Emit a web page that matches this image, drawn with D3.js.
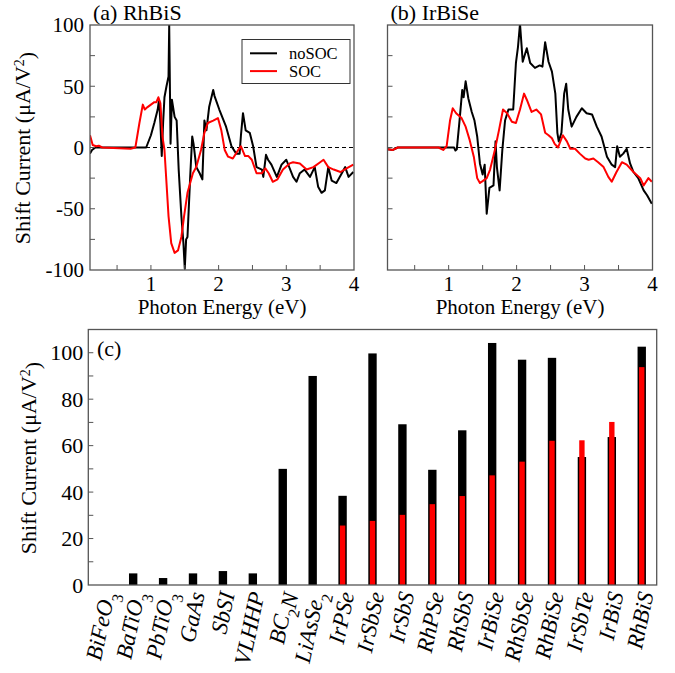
<!DOCTYPE html>
<html><head><meta charset="utf-8">
<script src="https://cdn.jsdelivr.net/npm/d3@7"></script>
<style>
html,body{margin:0;padding:0;background:#fff;}
svg, svg text{font-family:"Liberation Serif","DejaVu Serif","Times New Roman",serif;}
</style></head>
<body>
<svg id="chart" width="675" height="673" font-family="Liberation Serif, DejaVu Serif, serif"></svg>
<script>
// ---------- DATA ----------
const aNoSOC = [[0.10,-5],[0.13,-2],[0.18,0],[0.93,0],[1.0,10],[1.05,20],[1.10,31],[1.12,39],[1.14,20],[1.16,-7],[1.18,20],[1.20,41],[1.23,50],[1.26,58],[1.27,100],[1.29,3],[1.31,39],[1.35,25],[1.38,22],[1.41,-18],[1.45,-56],[1.48,-78],[1.50,-99],[1.52,-75],[1.54,-73],[1.58,-24],[1.61,9],[1.63,3],[1.67,-16],[1.72,-21],[1.76,-26],[1.79,22],[1.82,14],[1.86,33],[1.92,47],[1.94,42],[2.01,31],[2.11,17],[2.19,1],[2.26,-5],[2.31,-5],[2.33,10],[2.36,28],[2.40,14],[2.46,12],[2.51,1],[2.56,-16],[2.64,-18],[2.66,-24],[2.70,-6],[2.73,-10],[2.78,-14],[2.86,-24],[2.93,-14],[3.0,-10],[3.10,-24],[3.15,-28],[3.20,-21],[3.27,-18],[3.35,-24],[3.42,-16],[3.47,-32],[3.52,-37],[3.57,-35],[3.62,-16],[3.67,-27],[3.74,-29],[3.82,-21],[3.87,-16],[3.92,-24],[3.99,-20]];
const aSOC = [[0.10,10],[0.14,2],[0.19,1],[0.23,1.5],[0.28,0],[0.70,-1],[0.77,0],[0.83,20],[0.88,35],[0.91,31],[0.95,33],[1.0,35],[1.05,37],[1.08,37],[1.11,41],[1.14,36],[1.17,9],[1.20,-2],[1.23,-29],[1.26,-56],[1.30,-78],[1.35,-86],[1.40,-84],[1.45,-73],[1.49,-56],[1.54,-37],[1.62,-21],[1.67,-16],[1.74,-2],[1.79,12],[1.84,20],[1.92,22],[1.99,24],[2.04,14],[2.09,-2],[2.14,-7.5],[2.21,-9],[2.29,-2],[2.33,1],[2.39,-7],[2.44,-7],[2.49,-10],[2.56,-21],[2.64,-21],[2.69,-17],[2.74,-21],[2.80,-28],[2.87,-26],[2.95,-18],[3.05,-13],[3.10,-12],[3.20,-13],[3.30,-18],[3.40,-16],[3.50,-12],[3.55,-10],[3.62,-16],[3.70,-18],[3.80,-20],[3.89,-17],[3.99,-14]];
const bNoSOC = [[0.10,-1.5],[0.18,-2],[0.25,0],[1.08,0],[1.10,-2.5],[1.12,-1.5],[1.16,22],[1.20,47],[1.22,41],[1.25,54],[1.29,40],[1.34,29],[1.38,22],[1.42,9],[1.46,-13],[1.50,-22],[1.53,-14],[1.56,-54],[1.60,-33],[1.66,-31],[1.69,5],[1.71,-16],[1.75,-35],[1.79,-2],[1.83,22],[1.88,31],[1.95,31],[1.99,69],[2.02,82],[2.05,101],[2.09,70],[2.15,81],[2.20,69],[2.27,65],[2.34,67],[2.38,66],[2.42,86],[2.47,70],[2.52,62],[2.57,44],[2.60,12],[2.62,5],[2.66,12],[2.70,44],[2.73,52],[2.76,31],[2.81,17],[2.88,25],[2.96,32],[3.03,28],[3.11,27],[3.18,17],[3.25,9],[3.33,-7.5],[3.40,-14],[3.45,-16],[3.48,1],[3.52,-7.5],[3.57,-5],[3.62,-1],[3.67,-13],[3.72,-20],[3.79,-25],[3.87,-35],[3.92,-39],[3.99,-46]];
const bSOC = [[0.10,-1.5],[0.18,-2],[0.25,0],[0.85,0],[0.92,-2],[0.97,1],[1.02,22],[1.06,32],[1.11,28],[1.19,24],[1.25,17],[1.31,6],[1.37,-7.5],[1.42,-25],[1.46,-29],[1.51,-27],[1.56,-25],[1.61,-18],[1.68,-2],[1.74,14],[1.80,31],[1.86,28],[1.93,21],[1.99,20],[2.05,31],[2.11,44],[2.15,39],[2.22,29],[2.29,31],[2.36,27],[2.42,12],[2.47,10],[2.52,7.5],[2.56,3],[2.61,0],[2.68,10],[2.74,5],[2.79,-1],[2.86,-1],[2.93,-5],[3.01,-9],[3.06,-10],[3.13,-9],[3.20,-12],[3.28,-16],[3.35,-24],[3.40,-28],[3.47,-20],[3.55,-12],[3.62,-14],[3.72,-20],[3.82,-25],[3.87,-31],[3.94,-25],[3.99,-28]];

const materials = ["BiFeO3","BaTiO3","PbTiO3","GaAs","SbSI","VLHHP","BC2N","LiAsSe2","IrPSe","IrSbSe","IrSbS","RhPSe","RhSbS","IrBiSe","RhSbSe","RhBiSe","IrSbTe","IrBiS","RhBiS"];
const barNoSOC = [0,5,3,5,6,5,50,90,38.4,99.7,69.2,49.6,66.6,104.2,97,97.8,55.1,63.7,102.6];
const barSOC = [null,null,null,null,null,null,null,null,25.6,27.6,30.2,34.8,38.3,47.2,53.1,62.1,62.3,70.2,93.8];

const lineXTicks = [1,2,3,4];
const lineXMinor = [0.5,1,1.5,2,2.5,3,3.5];
const lineYTicks = [-100,-50,0,50,100];
const lineYMinor = [-75,-50,-25,0,25,50,75];
const barYTicks = [0,20,40,60,80,100];
const barYMinor = [10,20,30,40,50,60,70,80,90,100];
const seriesNames = ["noSOC","SOC"];
const seriesColors = ["#000000","#ff0000"];

// ---------- DRAW ----------
const FONT = "Liberation Serif, DejaVu Serif, serif";
const svg = d3.select("#chart");
const frameColor = "#555";
const tickLen = 5;

function linePanel(id, x0, x1, label, dataNo, dataSoc, showYLabels, legend) {
  const x = d3.scaleLinear().domain([0.1, 4]).range([x0, x1]);
  const y = d3.scaleLinear().domain([-100, 100]).range([270, 25]);
  const g = svg.append("g").attr("font-family", FONT);
  g.append("clipPath").attr("id", id).append("rect")
    .attr("x", x0).attr("y", 25).attr("width", x1 - x0).attr("height", 245);
  g.append("line").attr("x1", x0).attr("x2", x1).attr("y1", y(0)).attr("y2", y(0))
    .attr("stroke", "#000").attr("stroke-width", 1).attr("stroke-dasharray", "4,3");
  const ln = d3.line().x(d => x(d[0])).y(d => y(d[1]));
  const cg = g.append("g").attr("clip-path", `url(#${id})`);
  cg.append("path").attr("d", ln(dataNo)).attr("fill", "none").attr("stroke", seriesColors[0])
    .attr("stroke-width", 2).attr("stroke-linejoin", "round");
  cg.append("path").attr("d", ln(dataSoc)).attr("fill", "none").attr("stroke", seriesColors[1])
    .attr("stroke-width", 2).attr("stroke-linejoin", "round");
  g.selectAll(".xt").data(lineXMinor).join("line")
    .attr("x1", d => x(d)).attr("x2", d => x(d)).attr("y1", 270).attr("y2", 270 - tickLen)
    .attr("stroke", frameColor).attr("stroke-width", 1);
  g.selectAll(".yt").data(lineYMinor).join("line")
    .attr("x1", x0).attr("x2", x0 + tickLen).attr("y1", d => y(d)).attr("y2", d => y(d))
    .attr("stroke", frameColor).attr("stroke-width", 1);
  g.append("rect").attr("x", x0).attr("y", 25).attr("width", x1 - x0).attr("height", 245)
    .attr("fill", "none").attr("stroke", frameColor).attr("stroke-width", 1.3);
  g.selectAll(".xl").data(lineXTicks).join("text")
    .attr("x", d => x(d)).attr("y", 291).attr("text-anchor", "middle")
    .attr("font-size", 21).text(d => d);
  if (showYLabels) {
    g.selectAll(".yl").data(lineYTicks).join("text")
      .attr("x", x0 - 6).attr("y", d => y(d)).attr("dy", "0.35em").attr("text-anchor", "end")
      .attr("font-size", 21).text(d => d);
  }
  g.append("text").attr("x", (x0 + x1) / 2).attr("y", 314).attr("text-anchor", "middle")
    .attr("font-size", 21).text("Photon Energy (eV)");
  g.append("text").attr("x", x0 + 3).attr("y", 20).attr("font-size", 22).text(label);
  if (legend) {
    const lg = g.append("g");
    lg.append("rect").attr("x", 242).attr("y", 39.5).attr("width", 108).attr("height", 44)
      .attr("fill", "#fff").attr("stroke", "#333").attr("stroke-width", 1);
    seriesNames.forEach((s, i) => {
      const yy = 53.3 + i * 17.8;
      lg.append("line").attr("x1", 250).attr("x2", 277).attr("y1", yy).attr("y2", yy)
        .attr("stroke", seriesColors[i]).attr("stroke-width", 2);
      lg.append("text").attr("x", 289).attr("y", yy).attr("dy", "0.33em")
        .attr("font-size", 16.5).text(s);
    });
  }
}

linePanel("clipA", 90, 354, "(a) RhBiS", aNoSOC, aSOC, true, true);
linePanel("clipB", 387.5, 652.5, "(b) IrBiSe", bNoSOC, bSOC, false, false);

function yTitle(cx, cy) {
  const t = svg.append("text").attr("transform", `translate(${cx},${cy}) rotate(-90)`)
    .attr("text-anchor", "middle").attr("font-size", 22).attr("font-family", FONT);
  t.append("tspan").text("Shift Current (μA/V");
  t.append("tspan").attr("dy", "-0.45em").attr("font-size", 14).text("2");
  t.append("tspan").attr("dy", "0.45em").text(")");
}
yTitle(30, 148);

// ---------- BAR PANEL ----------
const bx0 = 88.3, bx1 = 656.7, by0 = 585, by1 = 329.5;
const xb = d3.scaleBand().domain(materials).range([bx0, bx1]).padding(0);
const yb = d3.scaleLinear().domain([0, 110]).range([by0, by1]);
const bg = svg.append("g").attr("font-family", FONT);
const bw = xb.bandwidth();
bg.selectAll(".bb").data(materials).join("rect")
  .attr("x", (d) => xb(d) + bw / 2 - bw * 0.14)
  .attr("width", bw * 0.28)
  .attr("y", (d, i) => yb(barNoSOC[i]))
  .attr("height", (d, i) => by0 - yb(barNoSOC[i]))
  .attr("fill", "#000");
bg.selectAll(".rb").data(materials.filter((d, i) => barSOC[i] != null)).join("rect")
  .attr("x", d => xb(d) + bw / 2 - bw * 0.09)
  .attr("width", bw * 0.18)
  .attr("y", d => yb(barSOC[materials.indexOf(d)]))
  .attr("height", d => by0 - yb(barSOC[materials.indexOf(d)]))
  .attr("fill", "#ff0000");
bg.selectAll(".ybt").data(barYMinor).join("line")
  .attr("x1", bx0).attr("x2", bx0 + tickLen).attr("y1", d => yb(d)).attr("y2", d => yb(d))
  .attr("stroke", frameColor).attr("stroke-width", 1);
bg.append("rect").attr("x", bx0).attr("y", by1).attr("width", bx1 - bx0).attr("height", by0 - by1)
  .attr("fill", "none").attr("stroke", frameColor).attr("stroke-width", 1.3);
bg.selectAll(".ybl").data(barYTicks).join("text")
  .attr("x", bx0 - 5).attr("y", d => yb(d)).attr("dy", "0.35em").attr("text-anchor", "end")
  .attr("font-size", 22).text(d => d);
bg.append("text").attr("x", 97).attr("y", 356).attr("font-size", 22).text("(c)");
yTitle(36, 458);

// category labels with subscripts
materials.forEach(m => {
  const t = bg.append("text")
    .attr("transform", `translate(${xb(m) + bw / 2 + 4},592) rotate(-78)`)
    .attr("text-anchor", "end").attr("font-size", 23).attr("font-style", "italic");
  const parts = m.match(/[A-Za-z]+|\d+/g);
  let sub = false;
  parts.forEach(p => {
    if (/\d/.test(p)) {
      t.append("tspan").attr("dy", "0.55em").attr("font-size", 16).attr("font-style", "normal").text(p);
      sub = true;
    } else {
      t.append("tspan").attr("dy", sub ? "-0.2em" : "0.35em").text(p);
      sub = false;
    }
  });
});
</script>
</body></html>
